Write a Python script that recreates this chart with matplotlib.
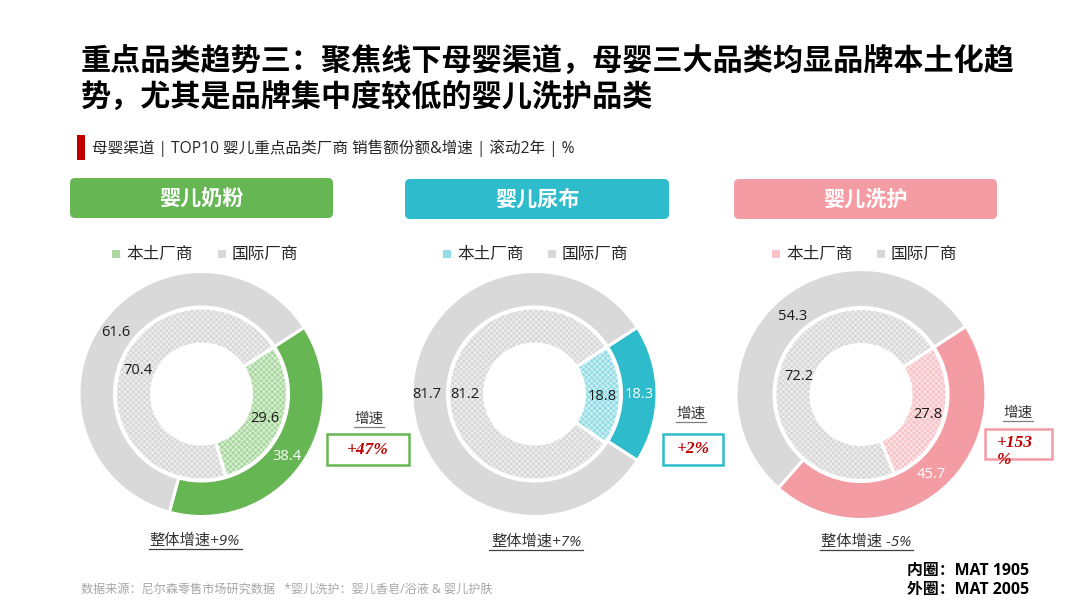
import matplotlib
matplotlib.use('Agg')
import matplotlib.pyplot as plt
from matplotlib.patches import FancyBboxPatch, Rectangle

plt.rcParams['font.family'] = ['Noto Sans CJK SC', 'DejaVu Sans']
plt.rcParams['hatch.linewidth'] = 0.35

# values
names = ['婴儿奶粉', '婴儿尿布', '婴儿洗护']
outer_local = [38.4, 18.3, 45.7]
outer_intl = [61.6, 81.7, 54.3]
inner_local = [29.6, 18.8, 27.8]
inner_intl = [70.4, 81.2, 72.2]
growth = ['+47%', '+2%', '+153\n%']
overall = ['整体增速+9%', '整体增速+7%', '整体增速 -5%']
legend_names = ['本土厂商', '国际厂商']

# styles / layout, all in pixels
colors = ['#66B654', '#2EBCCD', '#F49CA4']
lights = ['#A9D99E', '#92DDE6', '#F9C3C8']
gray = '#D9D9D9'
gray2 = '#D8D8D8'
latin = ['Open Sans', 'Noto Sans CJK SC']
centers = [(201.5, 394), (534.5, 394), (861, 394.5)]
radius = [122.5, 122.5, 125]
head_box = [(70, 178, 263, 40), (405, 179, 264, 40), (734, 179, 263, 40)]
legend_x = [(116, 222), (447, 552), (776, 881)]
growth_box = [(327, 434, 82, 31), (663, 434, 60, 31), (985, 429, 67, 30)]
growth_head = [(369, 419), (691, 414), (1018, 413)]
growth_txt = [(368, 450), (693, 449), (997, 435)]
overall_pos = [(195, 541), (536, 542), (866, 542)]
overall_w = [93, 94, 93]
outer_pos = [[(287, 457), (116, 333)], [(639, 395), (427, 395)], [(931, 475), (793, 316)]]
inner_pos = [[(265, 418), (138, 371)], [(602, 396), (465, 395)], [(928, 415), (799, 376)]]

W, H = 1080, 608
fig = plt.figure(figsize=(W / 100, H / 100), dpi=100, facecolor='white')


def donut(ax, vals, cols, r, w, hatch=None):
    if hatch:
        ax.pie(vals, colors=cols, radius=r, startangle=33, counterclock=False,
               wedgeprops=dict(width=w, linewidth=0, edgecolor='white', hatch=hatch))
    ax.pie(vals, colors=cols, radius=r, startangle=33, counterclock=False,
           wedgeprops=dict(width=w, linewidth=2.2, edgecolor='white', fill=not hatch))


for i in range(3):
    cx, cy = centers[i]
    R = radius[i]
    s = R + 4
    ax = fig.add_axes([(cx - s) / W, 1 - (cy + s) / H, 2 * s / W, 2 * s / H])
    donut(ax, [outer_local[i], outer_intl[i]], [colors[i], gray], R, R - 87)
    donut(ax, [inner_local[i], inner_intl[i]], [lights[i], gray2], 86, 36, hatch='xxxxxx')
    ax.set_xlim(-s, s)
    ax.set_ylim(-s, s)
    ax.axis('off')

# overlay in pixel coordinates for the text and boxes
ov = fig.add_axes([0, 0, 1, 1], zorder=5)
ov.set_xlim(0, W)
ov.set_ylim(H, 0)
ov.axis('off')

ov.text(81, 62, '重点品类趋势三\uff1a聚焦线下母婴渠道\uff0c母婴三大品类均显品牌本土化趋', fontsize=21.7,
        fontweight='bold', va='center', color='black')
ov.text(81, 98, '势\uff0c尤其是品牌集中度较低的婴儿洗护品类', fontsize=21.7,
        fontweight='bold', va='center', color='black')

ov.add_patch(Rectangle((77, 135), 8, 25, color='#C00000', lw=0))
ov.text(92, 148, '母婴渠道 | TOP10 婴儿重点品类厂商 销售额份额&增速 | 滚动2年 | %', fontsize=11.25,
        va='center', color='#262626', family=latin)

for i in range(3):
    x, y, w, h = head_box[i]
    ov.add_patch(FancyBboxPatch((x + 5, y + 5), w - 10, h - 10, boxstyle='round,pad=5,rounding_size=5',
                                fc=colors[i], ec='none'))
    ov.text(x + w / 2, y + h / 2 + 0.5, names[i], color='white', fontsize=15.2, fontweight='bold',
            ha='center', va='center')

    # legend
    ov.scatter([legend_x[i][0]], [253.5], s=28, marker='s', color=lights[i], linewidths=0)
    ov.scatter([legend_x[i][1]], [253.5], s=28, marker='s', color=gray2, linewidths=0)
    for mx, name in zip(legend_x[i], legend_names):
        ov.text(mx + 10, 254.5, name, fontsize=12, va='center', color='#262626')

    # value labels
    for j, v in enumerate([outer_local[i], outer_intl[i]]):
        ov.text(*outer_pos[i][j], f'{v:.1f}', fontsize=10.5, ha='center', va='center',
                color='white' if j == 0 else '#1A1A1A', family=['Open Sans', 'DejaVu Sans'])
    for j, v in enumerate([inner_local[i], inner_intl[i]]):
        ov.text(*inner_pos[i][j], f'{v:.1f}', fontsize=10.5, ha='center', va='center',
                color='#1A1A1A', family=['Open Sans', 'DejaVu Sans'])

    # growth boxes
    x, y, w, h = growth_box[i]
    ov.add_patch(Rectangle((x, y), w, h, fc='white', ec=colors[i], lw=1.8))
    hx, hy = growth_head[i]
    ov.text(hx, hy, '增速', fontsize=10.5, ha='center', va='center', color='#333333')
    ov.plot([hx - 15, hx + 15], [hy + 8, hy + 8], color='#7F7F7F', lw=0.9)
    gx, gy = growth_txt[i]
    if i == 2:
        ov.text(gx, gy, growth[i], fontsize=12.5, ha='left', va='top', color='#C00000',
                family=['Liberation Serif', 'DejaVu Sans'], style='italic', fontweight='bold',
                linespacing=1.1)
    else:
        ov.text(gx, gy, growth[i], fontsize=12.5, ha='center', va='center', color='#C00000',
                family=['Liberation Serif', 'DejaVu Sans'], style='italic', fontweight='bold')

    # overall growth
    ox, oy = overall_pos[i]
    ov.text(ox, oy, overall[i], fontsize=11, ha='center', va='center', color='#333333',
            style='italic', family=['Open Sans', 'Noto Sans CJK SC'])
    ov.plot([ox - overall_w[i] / 2, ox + overall_w[i] / 2], [oy + 8, oy + 8], color='#404040', lw=0.9)

ov.text(81, 589, '数据来源\uff1a尼尔森零售市场研究数据   *婴儿洗护\uff1a婴儿香皂/浴液 & 婴儿护肤', fontsize=8.7,
        va='center', color='#A6A6A6', family=latin)
ov.text(907, 571, '内圈\uff1aMAT 1905', fontsize=11.4, fontweight='bold', va='center', color='black', family=latin)
ov.text(907, 590, '外圈\uff1aMAT 2005', fontsize=11.4, fontweight='bold', va='center', color='black', family=latin)

fig.savefig('out.png', dpi=100)
